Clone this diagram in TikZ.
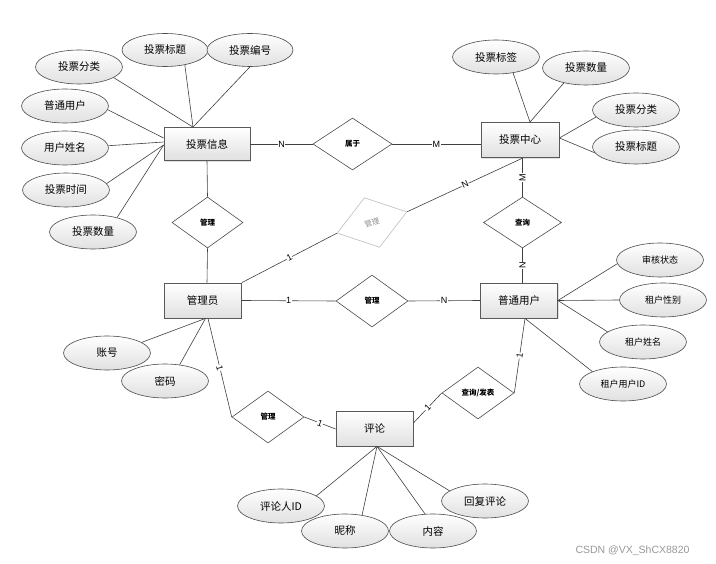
\documentclass[tikz,border=0pt]{standalone}
\usepackage{fontspec}
\setmainfont{Liberation Sans}
\newfontfamily\cjk{Noto Sans CJK SC}
\usetikzlibrary{shapes.geometric,shadows,calc}
\begin{document}
\begin{tikzpicture}[x=1pt,y=-1pt,
  ent/.style={rectangle, draw=black!65, line width=0.8pt, top color=white, bottom color=black!12,
    minimum width=77pt, minimum height=35pt, inner sep=0pt, font=\cjk\fontsize{10.5}{12}\selectfont,
    drop shadow={shadow xshift=1.2pt, shadow yshift=-1.2pt, opacity=0.25}},
  attr/.style={ellipse, draw=black!70, line width=0.6pt, top color=white, bottom color=black!12,
    minimum width=87pt, minimum height=34pt, inner sep=0pt, font=\cjk\fontsize{10.5}{12}\selectfont},
  rel/.style={diamond, draw=black!70, line width=0.6pt, fill=white, minimum width=72pt,
    minimum height=52pt, inner sep=0pt, font=\cjk\bfseries\fontsize{7.5}{9}\selectfont},
  ln/.style={draw=black!75, line width=0.6pt},
  lbl/.style={fill=white, inner sep=0.5pt, font=\fontsize{9}{10}\selectfont},
]
\fill[white] (0,0) rectangle (716,564);
\useasboundingbox (0,0) rectangle (716,564);

% entities
\node[ent,minimum width=86pt,minimum height=33pt] (vi) at (207,144) {投票信息};
\node[ent,minimum width=78pt] (vc) at (520,140) {投票中心};
\node[ent] (adm) at (202.5,300.5) {管理员};
\node[ent] (usr) at (519,300.5) {普通用户};
\node[ent] (cm) at (374.5,428.5) {评论};

% relations
\node[rel,minimum width=79pt] (r1) at (352.5,144) {属于};
\node[rel,minimum width=71pt,minimum height=51pt] (r2) at (207.5,222.5) {管理};
\node[rel,draw=black!25,text=black!45,minimum width=73pt,rotate=17,font=\cjk\fontsize{7.5}{9}\selectfont] (r3) at (372,222.5) {管理};
\node[rel,minimum width=78pt,minimum height=51pt] (r4) at (522.5,222.5) {查询};
\node[rel] (r5) at (372,301) {管理};
\node[rel] (r6) at (268,417) {管理};
\node[rel] (r7) at (478,393) {查询/发表};

% attributes
\node[attr] (a1) at (79,67) {投票分类};
\node[attr,minimum width=86pt,minimum height=33pt] (a2) at (165,50) {投票标题};
\node[attr,minimum width=86pt,minimum height=33pt] (a3) at (250,50) {投票编号};
\node[attr] (a4) at (65,106) {普通用户};
\node[attr] (a5) at (65,148) {用户姓名};
\node[attr] (a6) at (66,190) {投票时间};
\node[attr] (a7) at (93,232) {投票数量};
\node[attr] (b1) at (496,57) {投票标签};
\node[attr] (b2) at (586,68) {投票数量};
\node[attr] (b3) at (636,110) {投票分类};
\node[attr] (b4) at (636,147) {投票标题};
\node[attr,font=\cjk\fontsize{9}{11}\selectfont] (c1) at (660,260) {审核状态};
\node[attr,font=\cjk\fontsize{9}{11}\selectfont] (c2) at (663,300) {租户性别};
\node[attr,font=\cjk\fontsize{9}{11}\selectfont] (c3) at (643,342) {租户姓名};
\node[attr,font=\cjk\fontsize{9}{11}\selectfont] (c4) at (623,384) {租户用户ID};
\node[attr] (d1) at (107,353) {账号};
\node[attr] (d2) at (165,381) {密码};
\node[attr] (e1) at (281,506) {评论人ID};
\node[attr] (e2) at (345,531) {昵称};
\node[attr] (e3) at (433,531) {内容};
\node[attr] (e4) at (485,501) {回复评论};

% attachment points
\coordinate (viT) at ($(vi.north)+(-14,0)$);
\coordinate (viL1) at ($(vi.west)+(0,-6)$);
\coordinate (viL2) at ($(vi.west)+(0,-2)$);
\coordinate (viL3) at ($(vi.west)+(0,1)$);
\coordinate (vcT) at ($(vc.north)+(10,0)$);
\coordinate (vcR) at ($(vc.east)+(0,-2)$);
\coordinate (vcL) at ($(vc.west)+(0,4)$);
\coordinate (vcB1) at ($(vc.south)+(2.5,0)$);
\coordinate (vcB2) at ($(vc.south)+(3,0)$);
\coordinate (usrT) at ($(usr.north)+(3.5,0)$);
\coordinate (usrB) at ($(usr.south)+(6,0)$);
\coordinate (admT) at ($(adm.north)+(4.5,0)$);
\coordinate (admTR) at ($(adm.north east)+(0.5,0)$);
\coordinate (admB1) at ($(adm.south)+(5.5,0)$);
\coordinate (admB2) at ($(adm.south)+(3,0)$);
\coordinate (cmL) at ($(cm.west)+(0,0.5)$);
\coordinate (cmR) at ($(cm.east)+(0,-5.5)$);
\coordinate (cmB) at ($(cm.south)+(2.5,0)$);

% relationship connectors
\draw[ln] (vi.east) -- node[lbl]{N} (r1.west);
\draw[ln] (r1.east) -- node[lbl]{M} (vcL);
\draw[ln] (vi.south) -- (r2.north);
\draw[ln] (r2.south) -- (admT);
\draw[ln] (vcB1) -- node[lbl,rotate=90]{M} (r4.north);
\draw[ln] (r4.south) -- node[lbl,rotate=90]{N} (usrT);
\draw[ln] (admTR) -- node[lbl,rotate=28]{1} (r3.west);
\draw[ln] (r3.east) -- node[lbl,rotate=25]{N} (vcB2);
\draw[ln] (adm.east) -- node[lbl]{1} (r5.west);
\draw[ln] (r5.east) -- node[lbl]{N} (usr.west);
\draw[ln] (admB1) -- node[lbl,rotate=-76]{1} (r6.west);
\draw[ln] (r6.east) -- node[lbl,rotate=-20]{1} (cmL);
\draw[ln] (cmR) -- node[lbl,rotate=46]{1} (r7.west);
\draw[ln] (r7.east) -- node[lbl,rotate=82]{1} (usrB);

% attribute connectors
\draw[ln] (a1.-17) -- (viT);
\draw[ln] (a2.-37) -- (viT);
\draw[ln] (a3.-90) -- (viT);
\draw[ln] (a4.-5) -- (viL1);
\draw[ln] (a5.3) -- (viL2);
\draw[ln] (a6.9) -- (viL3);
\draw[ln] (a7.31) -- (viL3);
\draw[ln] (b1.-43) -- (vcT);
\draw[ln] (b2.214) -- (vcT);
\draw[ln] (b3.190) -- (vcR);
\draw[ln] (b4.188) -- (vcR);
\draw[ln] (c1.185) -- (usr.east);
\draw[ln] (c2.180) -- (usr.east);
\draw[ln] (c3.164) -- (usr.east);
\draw[ln] (c4.158) -- (usrB);
\draw[ln] (d1.17) -- (admB2);
\draw[ln] (d2.48) -- (admB2);
\draw[ln] (e1.16) -- (cmB);
\draw[ln] (e2.43) -- (cmB);
\draw[ln] (e3.115) -- (cmB);
\draw[ln] (e4.164) -- (cmB);

\node[font=\fontsize{10.5}{12}\selectfont, text=black!40, anchor=west] (wm) at (572,551) {CSDN @VX\_ShCX8820};
\end{tikzpicture}
\end{document}
